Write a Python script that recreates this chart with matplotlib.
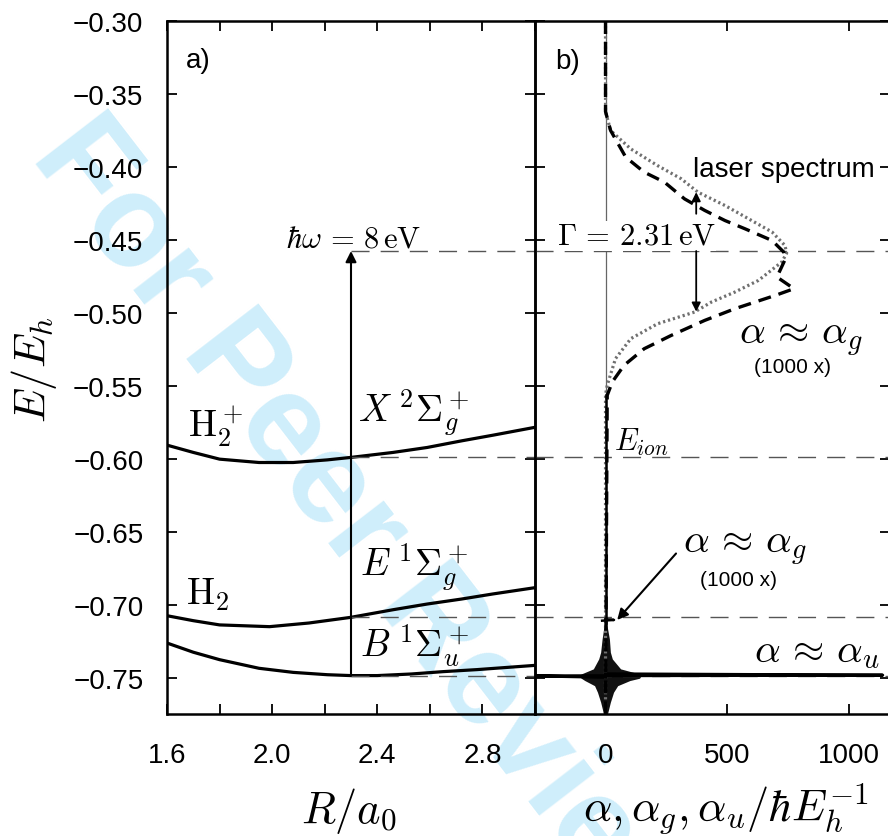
import matplotlib
matplotlib.use("Agg")
import matplotlib.pyplot as plt

plt.rcParams['font.family'] = ['Liberation Sans', 'DejaVu Sans']
plt.rcParams['mathtext.fontset'] = 'cm'

# panel a) potential curves
R_ion = [1.60, 1.70, 1.80, 1.95, 2.08, 2.21, 2.30, 2.46, 2.59, 2.72, 2.84, 3.00]
E_ion_curve = [-0.5904, -0.5954, -0.6000, -0.6023, -0.6023, -0.6005, -0.5988,
               -0.5954, -0.5920, -0.5875, -0.5836, -0.5782]
R_E = [1.60, 1.70, 1.80, 1.99, 2.14, 2.30, 2.46, 2.59, 2.72, 2.84, 3.00]
E_Estate = [-0.7072, -0.7106, -0.7135, -0.7147, -0.7122, -0.7083, -0.7031,
            -0.6992, -0.6958, -0.6923, -0.6880]
R_B = [1.60, 1.70, 1.80, 1.95, 2.08, 2.21, 2.30, 2.40, 2.53, 2.65, 2.78, 3.00]
E_Bstate = [-0.7259, -0.7322, -0.7373, -0.7432, -0.7460, -0.7476, -0.7482,
            -0.7482, -0.7471, -0.7455, -0.7441, -0.7412]

R_pump = 2.3
E_start = -0.7482
E_pump = -0.4575
levels = [-0.4575, -0.5988, -0.7083, -0.7482]

# panel b) spectra
E_laser = [-0.300, -0.362, -0.375, -0.3876, -0.399, -0.408, -0.4172, -0.4263,
           -0.4354, -0.4445, -0.4537, -0.459, -0.465, -0.4696, -0.4776, -0.4856,
           -0.4924, -0.4993, -0.5073, -0.5175, -0.5312, -0.5494, -0.556, -0.775]
laser = [0, 0, 21, 104, 214, 311, 380, 491, 588, 685, 738, 745, 725, 690, 629,
         532, 436, 366, 214, 104, 41, 7, 0, 0]

E_g = [-0.300, -0.362, -0.375, -0.3932, -0.4035, -0.4103, -0.4218, -0.4297,
       -0.4366, -0.4423, -0.4503, -0.4582, -0.4628, -0.4753, -0.4833, -0.4879,
       -0.4970, -0.5050, -0.5153, -0.5244, -0.5358, -0.5471, -0.5563, -0.775]
alpha_g = [0, 0, 21, 83, 159, 242, 325, 408, 491, 574, 685, 733, 740, 705, 775,
           698, 532, 408, 270, 159, 76, 28, 7, 0]

E_core = [-0.556, -0.712]
core = [0, 0]

E_gpeak = [-0.7096, -0.7101, -0.7106]
gpeak = [0, 35, -14]

E_u = [-0.7470, -0.7479, -0.7484, -0.7494]
alpha_u = [0, 1140, -300, 0]

burst_E = [-0.7120, -0.7231, -0.7322, -0.7368, -0.7436, -0.7471, -0.7486,
           -0.7500, -0.7516, -0.7551, -0.7596, -0.7664, -0.7744]
burst_lo = [-4, -14, -20, -28, -50, -100, -108, -100, -85, -45, -33, -20, -8]
burst_hi = [4, 16, 20, 28, 62, 140, 145, 140, 100, 50, 33, 20, 8]

fig = plt.figure(figsize=(8.88, 8.37), dpi=100)
ax1 = fig.add_axes([167/888, 122/837, 368/888, 693/837])
ax2 = fig.add_axes([535/888, 122/837, 355/888, 693/837], sharey=ax1)

fig.text(0.413, 0.358, 'For Peer Review', rotation=-52.4, fontsize=94,
         fontweight='bold', color='#cfeefb', ha='center', va='center', zorder=-1)

for ax in (ax1, ax2):
    ax.set_facecolor('none')
    ax.tick_params(direction='in', length=7, width=1.3, top=True, right=True,
                   labelsize=20, which='both')
    ax.tick_params(axis='x', pad=20)
    ax.tick_params(axis='y', pad=17)
    for s in ax.spines.values():
        s.set_linewidth(1.8)

dash_kw = dict(color='#555555', lw=1.0, dashes=(13, 8))

# ---- panel a
ax1.plot(R_ion, E_ion_curve, 'k-', lw=2.3)
ax1.plot(R_E, E_Estate, 'k-', lw=2.3)
ax1.plot(R_B, E_Bstate, 'k-', lw=2.3)
for lv in levels:
    ax1.plot([R_pump, 3.0], [lv, lv], **dash_kw)
ax1.annotate('', xy=(R_pump, E_pump), xytext=(R_pump, E_start),
             arrowprops=dict(arrowstyle='-|>', lw=1.5, color='k',
                             mutation_scale=16, shrinkA=0, shrinkB=0))
ax1.set_xlim(1.6, 3.0)
ax1.set_ylim(-0.7745, -0.3)
ax1.set_xticks([1.6, 2.0, 2.4, 2.8])
ax1.set_xticks([1.8, 2.2, 2.6, 3.0], minor=True)
ax1.set_xticklabels(['1.6', '2.0', '2.4', '2.8'])
ax1.set_yticks([-0.75, -0.70, -0.65, -0.60, -0.55, -0.50, -0.45, -0.40, -0.35, -0.30])
ax1.yaxis.set_major_formatter(plt.FuncFormatter(lambda v, p: f'{v:.2f}'.replace('-', '\u2212')))

ax1.text(1.672, -0.3267, 'a)', fontsize=20, va='center')
ax1.text(2.31, -0.4546, r'$\hbar\omega\,=\,8\,\mathrm{eV}$', fontsize=22,
         ha='center', va='baseline')
ax1.text(2.327, -0.5736, r'$X\;{}^2\Sigma_g^+$', fontsize=27, va='baseline')
ax1.text(2.334, -0.6798, r'$E\;{}^1\Sigma_g^+$', fontsize=27, va='baseline')
ax1.text(2.334, -0.7350, r'$B\;{}^1\Sigma_u^+$', fontsize=27, va='baseline')
ax1.text(1.678, -0.5843, r'$\mathrm{H}_2^+$', fontsize=27, va='baseline')
ax1.text(1.674, -0.6992, r'$\mathrm{H}_2$', fontsize=27, va='baseline')
ax1.text(0.495, -0.156, r'$R/a_0$', transform=ax1.transAxes, fontsize=32,
         ha='center', va='baseline')
fig.text(34/888, 1 - 370/837, r'$E/E_h$', rotation=90, fontsize=32,
         ha='center', va='center')

# ---- panel b
ax2.axvline(0, color='#666666', lw=0.9, zorder=1)
for lv in levels:
    ax2.axhline(lv, **dash_kw)
ax2.plot(laser, E_laser, color='#707070', lw=2.3, linestyle=(0, (0.7, 0.9)))
ax2.plot(alpha_g, E_g, color='k', lw=2.4, dashes=(3.9, 2.4))
ax2.plot(core, E_core, color='k', lw=1.8)
ax2.plot(gpeak, E_gpeak, color='k', lw=1.8)
ax2.fill_betweenx(burst_E, burst_lo, burst_hi, color='#111111', lw=0)
ax2.plot(alpha_u, E_u, color='k', lw=2.2)

ax2.set_xlim(-290, 1170)
ax2.set_xticks([0, 500, 1000])
ax2.tick_params(axis='y', labelleft=False)

ax2.text(-207, -0.3274, 'b)', fontsize=20, va='center')
ax2.text(-200, -0.4525, r'$\Gamma\,=\,2.31\,\mathrm{eV}$', fontsize=22, va='baseline',
         bbox=dict(facecolor='white', edgecolor='none', pad=0), zorder=3)
ax2.text(360, -0.401, 'laser spectrum', fontsize=20, va='center')
ax2.annotate('', xy=(373, -0.4172), xytext=(373, -0.432),
             arrowprops=dict(arrowstyle='-|>', lw=1.3, color='k',
                             mutation_scale=13, shrinkA=0, shrinkB=0))
ax2.annotate('', xy=(373, -0.499), xytext=(373, -0.4575),
             arrowprops=dict(arrowstyle='-|>', lw=1.3, color='k',
                             mutation_scale=13, shrinkA=0, shrinkB=0))
ax2.text(804, -0.5205, r'$\alpha\,\approx\,\alpha_g$', fontsize=29, ha='center', va='baseline')
ax2.text(768, -0.5368, '(1000 x)', fontsize=15, ha='center', va='center')
ax2.text(35, -0.5938, r'$E_{ion}$', fontsize=22, va='baseline')
ax2.text(575, -0.6635, r'$\alpha\,\approx\,\alpha_g$', fontsize=29, ha='center', va='baseline')
ax2.text(547, -0.6822, '(1000 x)', fontsize=15, ha='center', va='center')
ax2.annotate('', xy=(48, -0.7101), xytext=(290, -0.6646),
             arrowprops=dict(arrowstyle='-|>', lw=1.5, color='k',
                             mutation_scale=16, shrinkA=0, shrinkB=0))
ax2.text(871, -0.738, r'$\alpha\,\approx\,\alpha_u$', fontsize=29, ha='center', va='baseline')
ax2.text(0.538, -0.152, r'$\alpha, \alpha_g, \alpha_u/\hbar E_h^{-1}$',
         transform=ax2.transAxes, fontsize=32, ha='center', va='baseline')

fig.savefig('out.png', dpi=100)
